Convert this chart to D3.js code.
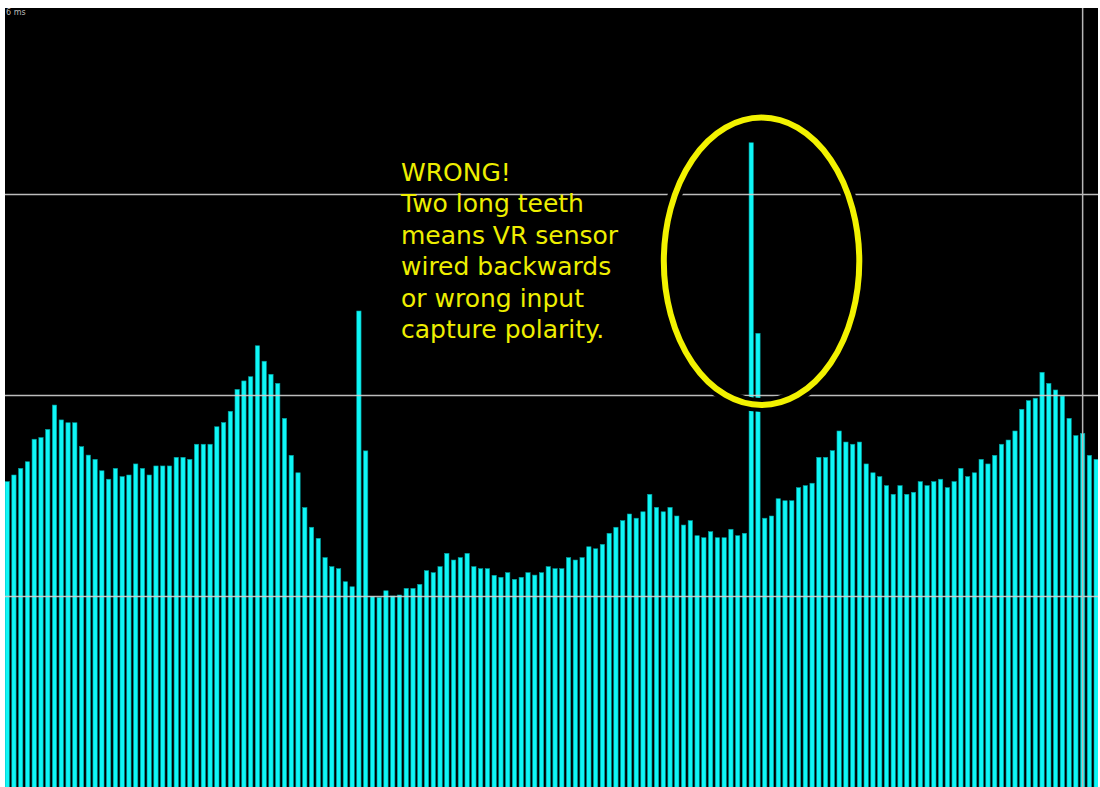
<!DOCTYPE html>
<html>
<head>
<meta charset="utf-8">
<script src="https://cdn.jsdelivr.net/npm/d3@7"></script>
<style>
  html, body { margin: 0; padding: 0; background: #ffffff; }
  svg { display: block; }
</style>
</head>
<body>
<svg id="chart" width="1100" height="787"></svg>
<script>
// Tooth-to-tooth periods (ms) for consecutive crank wheel teeth
const toothPeriods = [
  1.569, 1.602, 1.635, 1.668, 1.780, 1.788, 1.829, 1.950, 1.876, 1.862,
  1.862, 1.743, 1.701, 1.680, 1.623, 1.581, 1.635, 1.594, 1.602, 1.657,
  1.635, 1.602, 1.647, 1.647, 1.647, 1.690, 1.690, 1.680, 1.755, 1.755,
  1.755, 1.842, 1.863, 1.919, 2.028, 2.070, 2.091, 2.245, 2.168, 2.103,
  2.058, 1.884, 1.700, 1.613, 1.440, 1.342, 1.287, 1.191, 1.146, 1.136,
  1.071, 1.046, 2.418, 1.722, 0.997, 0.993, 1.026, 1.000, 1.005, 1.038,
  1.038, 1.058, 1.126, 1.116, 1.146, 1.212, 1.179, 1.191, 1.212, 1.146,
  1.136, 1.136, 1.103, 1.093, 1.116, 1.083, 1.093, 1.116, 1.104, 1.116,
  1.146, 1.136, 1.136, 1.191, 1.179, 1.191, 1.245, 1.235, 1.257, 1.312,
  1.342, 1.375, 1.408, 1.387, 1.419, 1.506, 1.441, 1.419, 1.441, 1.398,
  1.353, 1.375, 1.300, 1.290, 1.320, 1.290, 1.290, 1.332, 1.300, 1.312,
  3.255, 2.307, 1.387, 1.398, 1.484, 1.474, 1.474, 1.539, 1.549, 1.561,
  1.690, 1.690, 1.723, 1.821, 1.766, 1.755, 1.766, 1.657, 1.613, 1.594,
  1.549, 1.506, 1.549, 1.506, 1.516, 1.569, 1.549, 1.569, 1.581, 1.539,
  1.569, 1.635, 1.594, 1.613, 1.680, 1.657, 1.700, 1.755, 1.776, 1.821,
  1.929, 1.972, 1.984, 2.113, 2.058, 2.025, 1.995, 1.884, 1.798, 1.809,
  1.700, 1.680
];
// Horizontal reference levels (ms)
const gridLevels = [1, 2, 3];
// Tooth index under the cursor line
const cursorTooth = 159;
// Scale caption in the corner
const scaleLabel = "6 ms";
// Annotation text, one entry per line
const noteLines = [
  "WRONG!",
  "Two long teeth",
  "means VR sensor",
  "wired backwards",
  "or wrong input",
  "capture polarity."
];
// Highlighted region around the doubled long tooth (tooth index / ms)
const highlight = { from: 97.4, to: 126.3, low: 1.95, high: 3.38 };

const svg = d3.select("#chart");
const plot = { left: 5, top: 8, right: 1098, bottom: 787 };
const step = 6.764;

const x = d3.scaleBand()
  .domain(d3.range(toothPeriods.length))
  .range([plot.left, plot.left + step * (toothPeriods.length - 0.36)])
  .paddingInner(0.36)
  .paddingOuter(0);

// continuous index scale for annotations
const xi = d3.scaleLinear()
  .domain([0, toothPeriods.length])
  .range([plot.left, plot.left + step * toothPeriods.length]);

const y = d3.scaleLinear().domain([0, 4]).range([797, -7]);

svg.append("defs").append("clipPath").attr("id", "plotClip")
  .append("rect")
  .attr("x", plot.left).attr("y", plot.top)
  .attr("width", plot.right - plot.left).attr("height", plot.bottom - plot.top);

const g = svg.append("g").attr("clip-path", "url(#plotClip)");

g.append("rect")
  .attr("x", plot.left).attr("y", plot.top)
  .attr("width", plot.right - plot.left).attr("height", plot.bottom - plot.top)
  .attr("fill", "#000000");

// tooth period bars
g.append("g").selectAll("rect")
  .data(toothPeriods)
  .join("rect")
  .attr("x", (d, i) => x(i))
  .attr("y", d => y(d))
  .attr("width", x.bandwidth())
  .attr("height", d => y(0) - y(d))
  .attr("fill", "#0ff6f6")
  .attr("stroke", "#009c9c")
  .attr("stroke-width", 0.6);

// reference levels
const grid = g.append("g")
  .attr("transform", `translate(${plot.left},0)`)
  .call(d3.axisLeft(y)
    .tickValues(gridLevels)
    .tickSize(-(plot.right - plot.left))
    .tickFormat(""));
grid.select(".domain").remove();
grid.selectAll(".tick line")
  .attr("stroke", "#d0d0d0")
  .attr("stroke-opacity", 0.9)
  .attr("stroke-width", 1.6);

// cursor line
const cx0 = x(cursorTooth) + x.bandwidth() / 2;
g.append("line")
  .attr("x1", cx0).attr("x2", cx0)
  .attr("y1", plot.top).attr("y2", plot.bottom)
  .attr("stroke", "#b8b8b8")
  .attr("stroke-width", 1.5);

// highlight ellipse with dark halo
const ex = (xi(highlight.from) + xi(highlight.to)) / 2;
const ey = (y(highlight.low) + y(highlight.high)) / 2;
const erx = (xi(highlight.to) - xi(highlight.from)) / 2;
const ery = (y(highlight.low) - y(highlight.high)) / 2;
g.append("ellipse")
  .attr("cx", ex).attr("cy", ey).attr("rx", erx).attr("ry", ery)
  .attr("fill", "none").attr("stroke", "#000000").attr("stroke-width", 14);
g.append("ellipse")
  .attr("cx", ex).attr("cy", ey).attr("rx", erx).attr("ry", ery)
  .attr("fill", "none").attr("stroke", "#f2f200").attr("stroke-width", 6);

// annotation
g.append("text")
  .attr("x", 401).attr("y", 181)
  .attr("fill", "#eeee00")
  .attr("font-family", "DejaVu Sans, sans-serif")
  .attr("font-size", 25)
  .selectAll("tspan")
  .data(noteLines)
  .join("tspan")
  .attr("x", 401)
  .attr("dy", (d, i) => i === 0 ? 0 : 31.4)
  .text(d => d);

// scale caption
g.append("text")
  .attr("x", 6).attr("y", 15)
  .attr("fill", "#bbbbbb")
  .attr("font-family", "DejaVu Sans, sans-serif")
  .attr("font-size", 8)
  .text(scaleLabel);
</script>
</body>
</html>
